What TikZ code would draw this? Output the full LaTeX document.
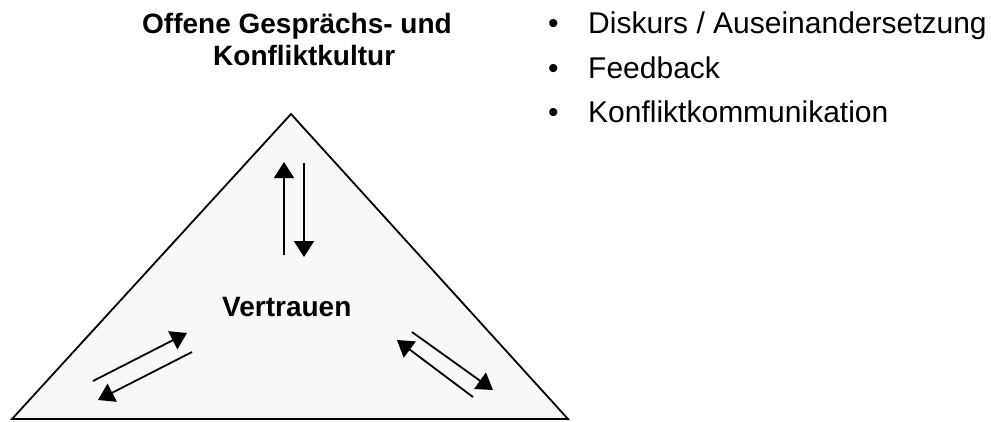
\documentclass[tikz,border=0pt]{standalone}
\usepackage{fontspec}
\setmainfont{Liberation Sans}
\usetikzlibrary{arrows.meta}
\tikzset{
	pfeil/.style={line width=1.8pt, -{Triangle[length=16pt,width=20pt]}},
	titel/.style={anchor=base west, inner sep=0pt, font=\fontsize{28}{32}\selectfont\bfseries},
	punkt/.style={anchor=base west, inner sep=0pt, font=\fontsize{30}{34}\selectfont},
}
\begin{document}
\begin{tikzpicture}[x=1pt,y=-1pt]
		\useasboundingbox (0,0) rectangle (991,421);
		\coordinate (spitze) at (291,114);
		\coordinate (links) at (12,419);
		\coordinate (rechts) at (568,419);
		\draw [line width=1.8pt, fill={rgb,255:red,248;green,248;blue,248}, line join=miter] (spitze) -- (rechts) -- (links) -- cycle;
		\node [titel] (titel1) at (142,33) {Offene Gesprächs- und};
		\node [titel] (titel2) at (213,65) {Konfliktkultur};
		\node [titel] (mitte) at (222,316) {Vertrauen};
		\node [punkt] (b1) at (548,33) {•};
		\node [punkt] (b2) at (548,78) {•};
		\node [punkt] (b3) at (548,122) {•};
		\node [punkt] (t1) at (588,33) {Diskurs / Auseinandersetzung};
		\node [punkt] (t2) at (588,78) {Feedback};
		\node [punkt] (t3) at (588,122) {Konfliktkommunikation};
		% Pfeile oben
		\coordinate (o1a) at (284,255); \coordinate (o1b) at (284,162);
		\coordinate (o2a) at (304,163); \coordinate (o2b) at (304,257);
		\draw [pfeil] (o1a) -- (o1b);
		\draw [pfeil] (o2a) -- (o2b);
		% Pfeile links
		\coordinate (l1a) at (93,381); \coordinate (l1b) at (187,333);
		\coordinate (l2a) at (192,352); \coordinate (l2b) at (98,400);
		\draw [pfeil] (l1a) -- (l1b);
		\draw [pfeil] (l2a) -- (l2b);
		% Pfeile rechts
		\coordinate (r1a) at (473,397); \coordinate (r1b) at (397,340);
		\coordinate (r2a) at (412,332); \coordinate (r2b) at (493,390);
		\draw [pfeil] (r1a) -- (r1b);
		\draw [pfeil] (r2a) -- (r2b);
	\end{tikzpicture}
\end{document}
